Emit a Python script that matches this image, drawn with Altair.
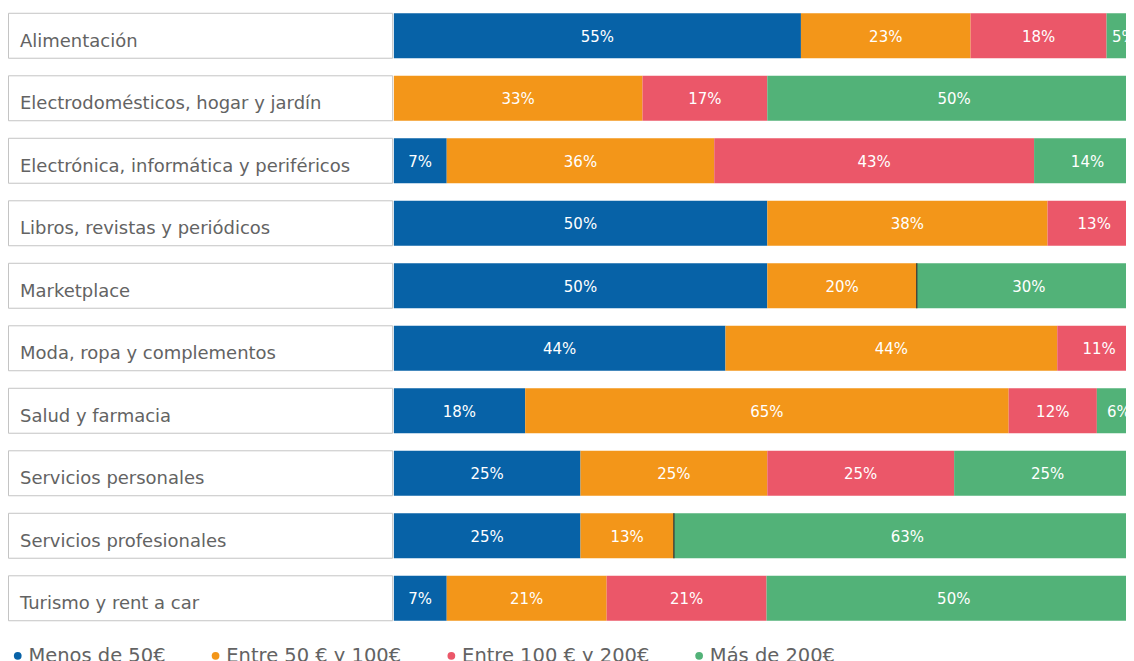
import altair as alt
import pandas as pd

categories = [
    "Alimentación",
    "Electrodomésticos, hogar y jardín",
    "Electrónica, informática y periféricos",
    "Libros, revistas y periódicos",
    "Marketplace",
    "Moda, ropa y complementos",
    "Salud y farmacia",
    "Servicios personales",
    "Servicios profesionales",
    "Turismo y rent a car",
]
series = ["Menos de 50€", "Entre 50 € y 100€", "Entre 100 € y 200€", "Más de 200€"]

menos_50 = [54.5, 0, 7.1, 50, 50, 44.4, 17.6, 25, 25, 7.1]
entre_50_100 = [22.7, 33.3, 35.8, 37.5, 20, 44.4, 64.7, 25, 12.5, 21.4]
entre_100_200 = [18.2, 16.7, 42.8, 12.5, 0, 11.2, 11.8, 25, 0, 21.4]
mas_200 = [4.6, 50, 14.3, 0, 30, 0, 5.9, 25, 62.5, 50.1]

colors = ["#0762a7", "#f39619", "#eb5769", "#52b278"]

rows = []
for si, (name, vals) in enumerate(zip(series, [menos_50, entre_50_100, entre_100_200, mas_200])):
    for cat, v in zip(categories, vals):
        rows.append({"category": cat, "series": name, "order": si, "value": v,
                     "label": f"{int(v + 0.5)}%"})
df = pd.DataFrame(rows)
cat_df = pd.DataFrame({"category": categories})

FONT = "DejaVu Sans"
TEXT_COLOR = "#636363"
H = 618
yscale = alt.Scale(domain=categories, paddingInner=0.2807, paddingOuter=0.08)
yenc = alt.Y("category:N", sort=categories, scale=yscale, axis=None)

box = alt.Chart(cat_df).mark_rect(fill="white", stroke="#c4c4c4", strokeWidth=1).encode(
    x=alt.value(0.5), x2=alt.value(385), y=yenc
)
box_text = alt.Chart(cat_df).mark_text(
    align="left", baseline="middle", dy=6, font=FONT, fontSize=18, color=TEXT_COLOR
).encode(x=alt.value(12), y=yenc, text="category:N")
left = alt.layer(box, box_text).properties(width=385, height=H)

base = alt.Chart(df).transform_stack(
    stack="value", as_=["x0", "x1"], groupby=["category"], sort=[alt.SortField("order")]
).transform_calculate(mid="(datum.x0 + datum.x1) / 2")

# visible part of the 0-100 % axis (the reference is cropped at the right edge)
xscale = alt.Scale(domain=[0, 98.0], nice=False, zero=True)
bars = base.mark_bar(strokeWidth=0, clip=True).encode(
    x=alt.X("x0:Q", scale=xscale, axis=None),
    x2="x1:Q",
    y=yenc,
    color=alt.Color(
        "series:N",
        scale=alt.Scale(domain=series, range=colors),
        legend=alt.Legend(
            title=None, orient="none", legendX=0, legendY=638, direction="horizontal",
            symbolType="circle", symbolSize=60, symbolStrokeWidth=0,
            labelFontSize=19.5, labelFont=FONT, labelColor=TEXT_COLOR, labelLimit=0,
            columnPadding=40, labelOffset=1, padding=0,
        ),
    ),
)
# empty "Entre 100 € y 200€" segments show as a thin dark divider in the reference
empty = base.transform_filter("datum.value == 0 && datum.order == 2").mark_bar(
    fill="#333333", stroke="#333333", strokeWidth=1, strokeOpacity=0.8, clip=True
).encode(x=alt.X("x0:Q", scale=xscale, axis=None), x2="x1:Q", y=yenc)
labels = base.transform_filter("datum.value > 0").mark_text(
    color="white", font=FONT, fontSize=15, baseline="middle", dy=1, clip=True
).encode(x=alt.X("mid:Q", scale=xscale, axis=None), y=yenc, text="label:N")
right = alt.layer(bars, empty, labels).properties(width=733, height=H)

chart = alt.hconcat(left, right, spacing=0).properties(padding=0).configure_view(stroke=None)

chart.save("out.html", embed_options={"renderer": "svg", "actions": False})
